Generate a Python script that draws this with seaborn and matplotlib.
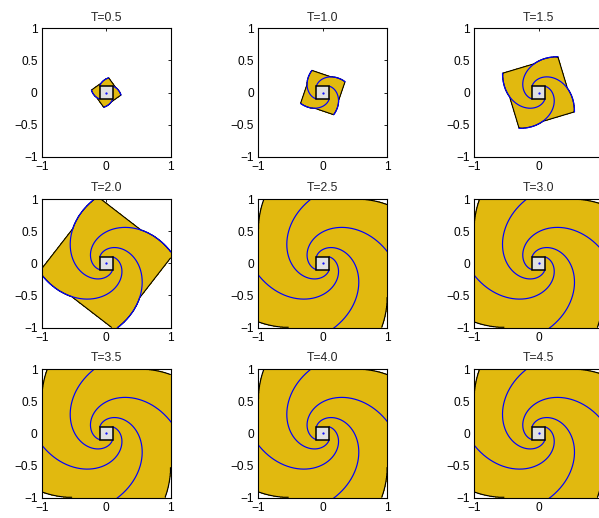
import numpy as np
import pandas as pd
import matplotlib
matplotlib.use("Agg")
import matplotlib.pyplot as plt
import seaborn as sns
from matplotlib.patches import Rectangle

# Snapshot times of the evolving front
TIMES = [0.5, 1.0, 1.5, 2.0, 2.5, 3.0, 3.5, 4.0, 4.5]
# Flow: radial growth rate and clockwise spin rate
GROWTH = 1.0
SPIN = 1.9
# Initial square (half side) and computational box (half width)
HALF_SIDE = 0.1
BOX = 1.0
XTICKS = [-1, 0, 1]
XTICKLABELS = ["\u22121", "0", "1"]
# the right-hand column's last x label falls past the figure edge
XTICKLABELS_EDGE = ["\u22121", "0", ""]
YTICKS = [-1, -0.5, 0, 0.5, 1]
YTICKLABELS = ["\u22121", "\u22120.5", "0", "0.5", "1"]

GOLD = "#E1B90F"
SQUARE_FACE = "#E0E0E0"

sns.set_style("white")
plt.rcParams["font.family"] = ["Liberation Sans", "DejaVu Sans"]
plt.rcParams["axes.unicode_minus"] = True


def flow(px, py, t):
    """Forward flow map: expand by exp(GROWTH t), rotate clockwise by SPIN t."""
    c, s = np.cos(SPIN * t), np.sin(SPIN * t)
    g = np.exp(GROWTH * t)
    return g * (c * px + s * py), g * (-s * px + c * py)


# Arrival time of the front on a grid: integrate each point backward until it
# enters the initial square; points whose backward path leaves the box are never reached.
N = 521
grid = np.linspace(-BOX, BOX, N)
X, Y = np.meshgrid(grid, grid)
arrival = np.full(X.shape, 99.0)
alive = np.ones(X.shape, bool)
ds = 0.004
s_max = np.log(np.sqrt(2) * BOX / HALF_SIDE) / GROWTH + 0.05
d_prev = np.maximum(np.abs(X), np.abs(Y)) - HALF_SIDE
inside0 = d_prev <= 0
arrival[inside0] = 0.0
alive &= ~inside0
for s in np.arange(ds, s_max, ds):
    qx, qy = flow(X, Y, -s)
    d_now = np.maximum(np.abs(qx), np.abs(qy)) - HALF_SIDE
    hit = alive & (d_now <= 0)
    frac = d_prev[hit] / (d_prev[hit] - d_now[hit])
    arrival[hit] = (s - ds) + ds * frac
    alive &= ~hit
    in_box = (np.abs(qx) <= BOX) & (np.abs(qy) <= BOX)
    alive &= in_box
    d_prev = d_now

fig = plt.figure(figsize=(5.99, 5.18), dpi=100)

W, H = 599.0, 518.0
col_left = [41.7, 258.3, 474.0]
row_top = [28.3, 199.0, 369.0]
ax_w, ax_h = 129.0, 128.5

corners = [(HALF_SIDE, HALF_SIDE), (-HALF_SIDE, HALF_SIDE),
           (-HALF_SIDE, -HALF_SIDE), (HALF_SIDE, -HALF_SIDE)]

for k, T in enumerate(TIMES):
    r, c = divmod(k, 3)
    ax = fig.add_axes([col_left[c] / W, 1 - (row_top[r] + ax_h) / H,
                       ax_w / W, ax_h / H])

    # swept region and its front
    ax.contourf(X, Y, arrival, levels=[-1.0, T], colors=[GOLD], zorder=1)
    ax.contour(X, Y, arrival, levels=[T], colors="black", linewidths=0.8, zorder=2)

    # corner trajectories
    frames = []
    for i, (cx, cy) in enumerate(corners):
        t = np.linspace(0, T, 700)
        sx, sy = flow(cx, cy, t)
        frames.append(pd.DataFrame({"x": sx, "y": sy, "corner": i}))
    spirals = pd.concat(frames, ignore_index=True)
    sns.lineplot(data=spirals, x="x", y="y", units="corner", estimator=None,
                 sort=False, color="#0000FF", linewidth=0.85, legend=False,
                 ax=ax, zorder=3)

    ax.add_patch(Rectangle((-HALF_SIDE, -HALF_SIDE), 2 * HALF_SIDE, 2 * HALF_SIDE,
                           facecolor=SQUARE_FACE, edgecolor="black",
                           linewidth=1.1, zorder=4))
    ax.plot([0], [0], marker=".", color="#0000FF", markersize=1.2, zorder=5)

    ax.set_xlim(-BOX, BOX)
    ax.set_ylim(-BOX, BOX)
    ax.set_xticks(XTICKS)
    ax.set_xticklabels(XTICKLABELS_EDGE if c == 2 else XTICKLABELS)
    ax.set_yticks(YTICKS)
    ax.set_yticklabels(YTICKLABELS)
    ax.set_xlabel("")
    ax.set_ylabel("")
    ax.tick_params(direction="in", length=2.5, width=0.6, labelsize=8.6,
                   top=True, right=True, colors="black", pad=3.0)
    for sp in ax.spines.values():
        sp.set_visible(True)
        sp.set_color("black")
        sp.set_linewidth(0.8)
        sp.set_zorder(6)
    ax.set_title(f"T={T:.1f}", fontsize=8.8, pad=5.5)

fig.savefig("out.png", dpi=100)
